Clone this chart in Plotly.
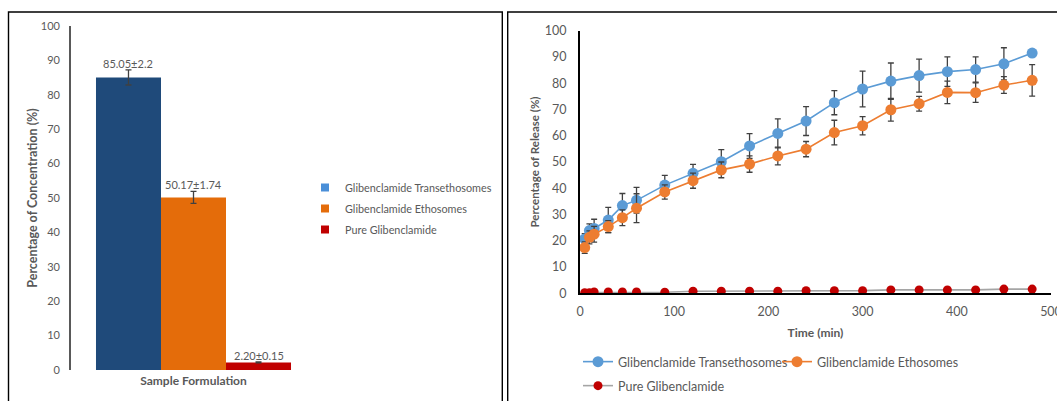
import plotly.graph_objects as go

W, H = 1057, 401

# ---------------- data ----------------
formulations = ["Glibenclamide Transethosomes", "Glibenclamide Ethosomes", "Pure Glibenclamide"]
entrapment = [85.05, 50.17, 2.20]
entrapment_err = [2.2, 1.74, 0.15]
entrapment_labels = ["85.05±2.2", "50.17±1.74", "2.20±0.15"]

time_min = [5, 10, 15, 30, 45, 60, 90, 120, 150, 180, 210, 240, 270, 300, 330, 360, 390, 420, 450, 480]
trans_release = [20.7, 23.9, 24.7, 27.9, 33.4, 35.4, 41.2, 45.7, 50.1, 56.1, 60.9, 65.6,
                 72.6, 77.8, 80.8, 82.9, 84.4, 85.2, 87.4, 91.5]
trans_err = [2.0, 2.5, 3.5, 4.8, 4.6, 4.9, 3.7, 3.4, 4.6, 4.7, 5.5, 5.5,
             4.6, 6.8, 6.9, 6.3, 5.6, 4.8, 6.1, 1.0]
etho_release = [17.4, 21.3, 22.5, 25.4, 28.8, 32.4, 38.6, 42.9, 47.0, 49.2, 52.3, 54.9,
                61.2, 63.8, 69.9, 72.2, 76.5, 76.4, 79.3, 81.1]
etho_err = [2.2, 2.5, 3.0, 2.3, 3.0, 5.5, 2.7, 2.9, 3.0, 3.1, 3.4, 2.9,
            4.7, 3.5, 4.3, 2.8, 4.3, 3.7, 3.2, 6.0]
pure_release = [0.25, 0.25, 0.5, 0.5, 0.5, 0.5, 0.4, 0.8, 0.8, 0.8, 0.8, 1.0,
                1.0, 1.0, 1.3, 1.3, 1.3, 1.3, 1.6, 1.6]

bar_colors = ["#1F4A7A", "#E46C0A", "#C00000"]
legend_swatch_colors = ["#4A8FD8", "#E46C0A", "#C00000"]
line_colors = ["#5B9BD5", "#ED7D31", "#A5A5A5"]
marker_colors = ["#5B9BD5", "#ED7D31", "#C00000"]

FONT = "Lato, 'Open Sans', sans-serif"
GRAY = "#595959"

fig = go.Figure()

# ---------------- left: bar chart ----------------
BARGAP = 0.204
for i in range(3):
    fig.add_trace(go.Bar(
        x=[0], y=[entrapment[i]], name=formulations[i],
        marker=dict(color=bar_colors[i], line=dict(width=0)),
        error_y=dict(type="data", array=[entrapment_err[i]], color="#404040", thickness=1.3, width=3),
        xaxis="x", yaxis="y", showlegend=False,
    ))
    fig.add_trace(go.Scatter(
        x=[None], y=[None], mode="markers", name=formulations[i],
        marker=dict(symbol="square", size=8, color=legend_swatch_colors[i]),
        xaxis="x", yaxis="y", legend="legend2", legendgroup=f"bar{i}",
    ))

bw = (1 - BARGAP) / 3
for i in range(3):
    fig.add_annotation(
        x=(i - 1) * bw, y=entrapment[i] + entrapment_err[i], xref="x", yref="y",
        text=entrapment_labels[i], showarrow=False, yanchor="bottom", yshift=-2,
        font=dict(family=FONT, size=11, color=GRAY),
    )

# ---------------- right: release profile ----------------
series = [(trans_release, trans_err), (etho_release, etho_err), (pure_release, None)]
legend_ids = ["legend", "legend", "legend3"]
for i, (vals, err) in enumerate(series):
    msize = 11 if i < 2 else 9
    fig.add_trace(go.Scatter(
        x=time_min, y=vals, name=formulations[i], mode="lines+markers",
        line=dict(color=line_colors[i], width=1.6),
        marker=dict(color=marker_colors[i], size=msize, line=dict(width=0)),
        error_y=(dict(type="data", array=err, color="#404040", thickness=1.3, width=3)
                 if err is not None else None),
        xaxis="x2", yaxis="y2", legend=legend_ids[i],
    ))

# panel borders
fig.add_shape(type="rect", xref="paper", yref="paper",
              x0=8.5 / W, x1=502.3 / W, y0=-0.05, y1=(H - 12) / H,
              line=dict(color="black", width=1.4))
fig.add_shape(type="rect", xref="paper", yref="paper",
              x0=507.7 / W, x1=1.05, y0=-0.05, y1=(H - 12) / H,
              line=dict(color="black", width=1.4))

fig.update_layout(
    width=W, height=H, template="none",
    margin=dict(l=0, r=0, t=0, b=0, autoexpand=False),
    paper_bgcolor="white", plot_bgcolor="white",
    font=dict(family=FONT, color=GRAY),
    barmode="group", bargap=BARGAP,
    xaxis=dict(
        domain=[71 / W, 316 / W], range=[-0.5, 0.5], showticklabels=False,
        showgrid=False, zeroline=False, showline=False, ticks="", automargin=False,
        title=dict(text="<b>Sample Formulation</b>", font=dict(size=12, color=GRAY), standoff=6),
    ),
    yaxis=dict(
        domain=[(H - 370) / H, (H - 26) / H], range=[0, 100], dtick=10,
        showgrid=False, zeroline=False, showline=True, linecolor="#595959", linewidth=1.6,
        ticks="", tickfont=dict(size=11, color=GRAY), automargin=False, ticklabelstandoff=7,
        title=dict(text="<b>Percentage of Concentration (%)</b>", font=dict(size=12.5, color=GRAY), standoff=0),
    ),
    xaxis2=dict(
        domain=[580 / W, 1051 / W], range=[0, 500], dtick=100, anchor="y2",
        showgrid=False, zeroline=False, showline=True, linecolor="black", linewidth=2,
        ticks="", tickfont=dict(size=12.5, color=GRAY), automargin=False,
        ticklabelstandoff=6, ticklabeloverflow="allow",
        title=dict(text="<b>Time (min)</b>", font=dict(size=12, color=GRAY), standoff=10),
    ),
    yaxis2=dict(
        domain=[(H - 293.3) / H, (H - 30.7) / H], range=[0, 100], dtick=10,
        anchor="x2", showgrid=False, zeroline=False, showline=True, linecolor="black", linewidth=2,
        ticks="", tickfont=dict(size=12.5, color=GRAY), automargin=False, ticklabelstandoff=9,
        title=dict(text="<b>Percentage of Release (%)</b>", font=dict(size=11.5, color=GRAY), standoff=3),
    ),
    legend=dict(
        orientation="h", x=578 / W, y=(H - 347) / H, xanchor="left", yanchor="top",
        font=dict(size=12.5, color=GRAY), bgcolor="rgba(0,0,0,0)", entrywidth=154,
    ),
    legend3=dict(
        orientation="h", x=578 / W, y=(H - 371) / H, xanchor="left", yanchor="top",
        font=dict(size=12.5, color=GRAY), bgcolor="rgba(0,0,0,0)",
    ),
    legend2=dict(
        orientation="v", x=305 / W, y=(H - 173) / H, xanchor="left", yanchor="top",
        font=dict(size=10.8, color=GRAY), bgcolor="rgba(0,0,0,0)", itemwidth=30,
        tracegroupgap=2,
    ),
)

fig.write_html("out.html")
